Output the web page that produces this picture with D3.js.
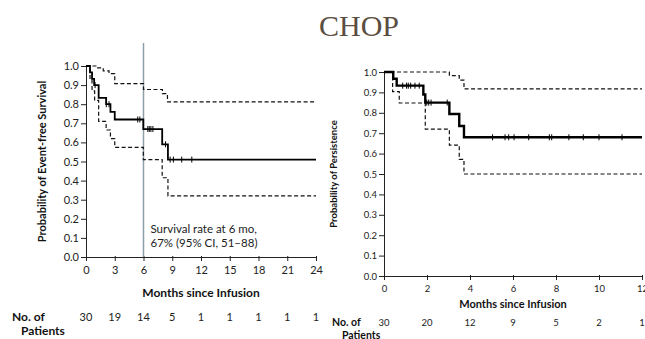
<!DOCTYPE html>
<html>
<head>
<meta charset="utf-8">
<script src="https://cdn.jsdelivr.net/npm/d3@7"></script>
<style>
  html, body { margin: 0; padding: 0; background: #fff; }
  svg { display: block; }
  text { font-family: Lato, "Open Sans", sans-serif; fill: #111; }
</style>
</head>
<body>
<svg id="chart" width="645" height="339"></svg>
<script>
// ---- Event-free survival (left panel) ----
const efsTimes  = [0, 0.42, 0.63, 0.85, 1.32, 2.1, 2.55, 3.0, 5.98, 7.95, 8.55, 24];
const efsValues = [1.0, 0.967, 0.933, 0.9, 0.833, 0.8, 0.76, 0.72, 0.67, 0.59, 0.51, 0.51];
const efsUpperTimes  = [0, 1.1, 1.8, 2.4, 3.0, 6.0, 7.97, 8.5, 24];
const efsUpperValues = [1.0, 0.99, 0.975, 0.96, 0.908, 0.877, 0.855, 0.812, 0.812];
const efsLowerTimes  = [0, 0.42, 0.63, 0.9, 1.32, 2.1, 2.55, 3.0, 5.98, 7.95, 8.55, 24];
const efsLowerValues = [1.0, 0.93, 0.87, 0.82, 0.71, 0.665, 0.62, 0.574, 0.51, 0.415, 0.32, 0.32];
const efsCensored = [0.95, 2.12, 2.4, 5.4, 5.62, 6.45, 6.6, 6.77, 6.98, 8.3, 8.78, 9.12, 9.99, 11.04];
const efsTicksX = [0, 3, 6, 9, 12, 15, 18, 21, 24];
const efsAtRisk = [30, 19, 14, 5, 1, 1, 1, 1, 1];

// ---- Persistence (right panel) ----
const perTimes  = [0, 0.43, 0.59, 1.83, 1.92, 3.04, 3.5, 3.72, 12];
const perValues = [1.0, 0.967, 0.933, 0.89, 0.85, 0.794, 0.735, 0.68, 0.68];
const perUpperTimes  = [0, 3.04, 3.5, 3.72, 12];
const perUpperValues = [1.0, 0.982, 0.96, 0.917, 0.917];
const perLowerTimes  = [0, 0.4, 0.71, 1.92, 3.04, 3.5, 3.72, 12];
const perLowerValues = [1.0, 0.904, 0.848, 0.72, 0.642, 0.572, 0.5, 0.5];
const perCensored = [0.87, 1.05, 1.13, 1.24, 1.44, 1.64, 1.99, 2.08, 2.19, 2.94,
                     5.05, 5.63, 5.8, 6.05, 6.73, 7.69, 7.8, 8.6, 9.27, 10.0, 11.07];
const perTicksX = [0, 2, 4, 6, 8, 10, 12];
const perAtRisk = [30, 20, 12, 9, 5, 2, 1];

const yTicks = [0, 0.1, 0.2, 0.3, 0.4, 0.5, 0.6, 0.7, 0.8, 0.9, 1.0];

const svg = d3.select("#chart");

svg.append("text")
  .attr("x", 359).attr("y", 36)
  .attr("text-anchor", "middle")
  .style("font-family", "'Liberation Serif', 'DejaVu Serif', serif")
  .style("font-size", "30px")
  .style("fill", "#5b4e41")
  .text("CHOP");

function stepAt(times, values, t) {
  let v = values[0];
  for (let i = 0; i < times.length; i++) if (times[i] <= t) v = values[i];
  return v;
}

function panel(opt) {
  const g = svg.append("g");
  const x = d3.scaleLinear().domain([0, opt.xMax]).range([opt.x0, opt.x1]);
  const y = d3.scaleLinear().domain([0, 1]).range([opt.y0, opt.y1]);

  // y axis
  const ya = g.append("g").attr("transform", `translate(${opt.x0},0)`)
    .call(d3.axisLeft(y).tickValues(yTicks).tickFormat(d3.format(".1f"))
      .tickSize(5).tickSizeOuter(0).tickPadding(2));
  ya.selectAll("text").style("font-size", opt.tickFont + "px").style("fill", "#222");
  ya.select(".domain").attr("stroke", "#222");
  ya.selectAll(".tick line").attr("stroke", "#222");

  // x axis
  const xa = g.append("g").attr("transform", `translate(0,${opt.y0})`)
    .call(d3.axisBottom(x).tickValues(opt.ticksX).tickFormat(d3.format("d"))
      .tickSize(4).tickSizeOuter(0).tickPadding(opt.xPad));
  xa.selectAll("text").style("font-size", opt.tickFont + "px").style("fill", "#222");
  xa.select(".domain").attr("stroke", "#222");
  xa.selectAll(".tick line").attr("stroke", "#222").attr("y1", -1);

  if (opt.marker) opt.marker(g, x, y);

  const line = d3.line().x(d => x(d[0])).y(d => y(d[1])).curve(d3.curveStepAfter);
  const pts = (ts, vs) => ts.map((t, i) => [t, vs[i]]);

  g.append("path").datum(pts(opt.upT, opt.upV)).attr("d", line)
    .attr("fill", "none").attr("stroke", "#111").attr("stroke-width", 1.2)
    .attr("stroke-dasharray", "4,2.5");
  g.append("path").datum(pts(opt.loT, opt.loV)).attr("d", line)
    .attr("fill", "none").attr("stroke", "#111").attr("stroke-width", 1.2)
    .attr("stroke-dasharray", "4,2.5");
  g.append("path").datum(pts(opt.sT, opt.sV)).attr("d", line)
    .attr("fill", "none").attr("stroke", "#000").attr("stroke-width", opt.lineW);

  g.selectAll(".cens").data(opt.cens).join("line")
    .attr("x1", d => x(d)).attr("x2", d => x(d))
    .attr("y1", d => y(stepAt(opt.sT, opt.sV, d)) - 3)
    .attr("y2", d => y(stepAt(opt.sT, opt.sV, d)) + 3)
    .attr("stroke", "#000").attr("stroke-width", 1);

  // axis titles
  g.append("text")
    .attr("transform", `translate(${opt.yTitleX},${(opt.y0 + opt.y1) / 2}) rotate(-90)`)
    .attr("text-anchor", "middle")
    .style("font-size", opt.yTitleFont + "px").style("font-weight", 700)
    .text(opt.yTitle);
  g.append("text")
    .attr("x", (opt.x0 + x(opt.xMax)) / 2).attr("y", opt.xTitleY)
    .attr("text-anchor", "middle")
    .style("font-size", opt.xTitleFont + "px").style("font-weight", 700)
    .text("Months since Infusion");

  // number at risk
  g.append("text").attr("x", opt.noX).attr("y", opt.riskY)
    .style("font-size", opt.riskLabelFont + "px").style("font-weight", 700).text("No. of");
  g.append("text").attr("x", opt.noX + opt.patDx).attr("y", opt.riskY + opt.patDy)
    .style("font-size", opt.riskLabelFont + "px").style("font-weight", 700).text("Patients");
  g.selectAll(".risk").data(opt.atRisk).join("text")
    .attr("x", (d, i) => x(opt.ticksX[i])).attr("y", opt.riskY)
    .attr("text-anchor", "middle")
    .style("font-size", opt.tickFont + "px").style("fill", "#222")
    .text(d => d);
}

panel({
  x0: 86, x1: 316, y0: 257, y1: 66, xMax: 24, xPad: 5,
  ticksX: efsTicksX, tickFont: 11, lineW: 1.8,
  sT: efsTimes, sV: efsValues, upT: efsUpperTimes, upV: efsUpperValues,
  loT: efsLowerTimes, loV: efsLowerValues, cens: efsCensored,
  yTitle: "Probability of Event-free Survival", yTitleX: 46, yTitleFont: 11,
  xTitleY: 297, xTitleFont: 12,
  noX: 12, riskY: 321, patDx: 9, patDy: 14, riskLabelFont: 12, atRisk: efsAtRisk,
  marker: (g, x, y) => {
    g.append("line").attr("x1", x(6)).attr("x2", x(6)).attr("y1", 43).attr("y2", y(0))
      .attr("stroke", "#8d9faa").attr("stroke-width", 1.5);
    const t = g.append("text").attr("y", 233)
      .style("font-size", "11.5px").style("fill", "#222");
    t.append("tspan").attr("x", x(6) + 7).text("Survival rate at 6 mo,");
    t.append("tspan").attr("x", x(6) + 7).attr("dy", 13.5).text("67% (95% CI, 51\u201388)");
  }
});

panel({
  x0: 384, x1: 642, y0: 276, y1: 72, xMax: 12, xPad: 5,
  ticksX: perTicksX, tickFont: 9.5, lineW: 2.4,
  sT: perTimes, sV: perValues, upT: perUpperTimes, upV: perUpperValues,
  loT: perLowerTimes, loV: perLowerValues, cens: perCensored,
  yTitle: "Probability of Persistence", yTitleX: 337, yTitleFont: 9.5,
  xTitleY: 308, xTitleFont: 11,
  noX: 332, riskY: 326, patDx: 10, patDy: 13, riskLabelFont: 10.5, atRisk: perAtRisk
});
</script>
</body>
</html>
